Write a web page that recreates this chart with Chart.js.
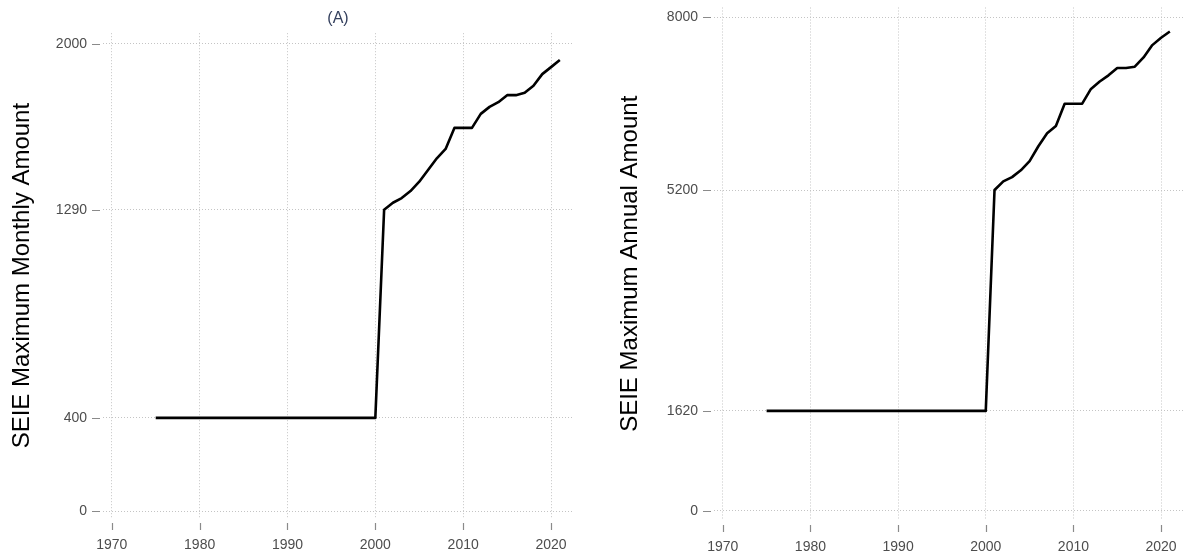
<!DOCTYPE html>
<html>
<head>
<meta charset="utf-8">
<script src="https://cdn.jsdelivr.net/npm/chart.js@4"></script>
<style>
  html, body { margin: 0; padding: 0; background: #fff; }
  #wrap { position: relative; width: 1189px; height: 559px; overflow: hidden; }
  canvas { position: absolute; top: 0; }
  #panelA { left: 0; }
  #panelB { left: 600px; }
</style>
</head>
<body>
<div id="wrap">
  <canvas id="panelA" width="600" height="559"></canvas>
  <canvas id="panelB" width="589" height="559"></canvas>
</div>
<script>
// SEIE maximum exclusion amounts by year
const years = [1975, 1976, 1977, 1978, 1979, 1980, 1981, 1982, 1983, 1984, 1985, 1986, 1987,
  1988, 1989, 1990, 1991, 1992, 1993, 1994, 1995, 1996, 1997, 1998, 1999, 2000,
  2001, 2002, 2003, 2004, 2005, 2006, 2007, 2008, 2009, 2010, 2011, 2012, 2013,
  2014, 2015, 2016, 2017, 2018, 2019, 2020, 2021];
const monthlyMax = [400, 400, 400, 400, 400, 400, 400, 400, 400, 400, 400, 400, 400,
  400, 400, 400, 400, 400, 400, 400, 400, 400, 400, 400, 400, 400,
  1290, 1320, 1340, 1370, 1410, 1460, 1510, 1550, 1640, 1640, 1640, 1700, 1730,
  1750, 1780, 1780, 1790, 1820, 1870, 1900, 1930];
const annualMax = [1620, 1620, 1620, 1620, 1620, 1620, 1620, 1620, 1620, 1620, 1620, 1620, 1620,
  1620, 1620, 1620, 1620, 1620, 1620, 1620, 1620, 1620, 1620, 1620, 1620, 1620,
  5200, 5340, 5410, 5520, 5670, 5910, 6120, 6240, 6600, 6600, 6600, 6840, 6960,
  7060, 7180, 7180, 7200, 7350, 7550, 7670, 7770];

const yearTicks = [1970, 1980, 1990, 2000, 2010, 2020];
const monthlyTicks = [0, 400, 1290, 2000];
const annualTicks = [0, 1620, 5200, 8000];

const FONT = "'Liberation Sans', Arial, sans-serif";
const GRID = '#c4c4c4';
const TICK_TEXT = '#4d4d4d';
const TICK_MARK = '#8a8a8a';

// Short tick marks that sit a few pixels outside the plotting area
const tickMarks = {
  id: 'tickMarks',
  afterDraw(chart) {
    const { ctx, chartArea } = chart;
    const xs = chart.scales.x, ys = chart.scales.y;
    ctx.save();
    ctx.strokeStyle = TICK_MARK;
    ctx.lineWidth = 1.2;
    ctx.beginPath();
    ys.ticks.forEach(t => {
      const py = Math.round(ys.getPixelForValue(t.value)) + 0.5;
      ctx.moveTo(chartArea.left - 11, py);
      ctx.lineTo(chartArea.left - 3, py);
    });
    xs.ticks.forEach(t => {
      const px = Math.round(xs.getPixelForValue(t.value)) + 0.5;
      ctx.moveTo(px, chartArea.bottom + 5);
      ctx.lineTo(px, chartArea.bottom + 12);
    });
    ctx.stroke();
    ctx.restore();
  }
};

function clearPadding(scale) {
  scale.paddingTop = 0;
  scale.paddingBottom = 0;
  scale.paddingLeft = 0;
  scale.paddingRight = 0;
}

function makePanel(canvasId, values, yTicks, yMin, yMax, yTitle, opts) {
  const points = years.map((yr, i) => ({ x: yr, y: values[i] }));
  return new Chart(document.getElementById(canvasId), {
    type: 'line',
    data: {
      datasets: [{
        data: points,
        borderColor: '#000',
        borderWidth: 2.6,
        pointRadius: 0,
        tension: 0,
        borderJoinStyle: 'round',
        fill: false
      }]
    },
    options: {
      responsive: false,
      animation: false,
      events: [],
      layout: { padding: opts.padding },
      plugins: {
        legend: { display: false },
        tooltip: { enabled: false },
        title: opts.title
      },
      scales: {
        x: {
          type: 'linear',
          min: 1969,
          max: 2022.5,
          border: { display: false, dash: [1, 2] },
          grid: { color: GRID, lineWidth: 1, drawTicks: false },
          afterBuildTicks(scale) { scale.ticks = yearTicks.map(v => ({ value: v })); },
          afterFit(scale) { scale.height = opts.xAxisHeight; clearPadding(scale); },
          ticks: {
            color: TICK_TEXT,
            font: { family: FONT, size: 14 },
            padding: 19,
            maxRotation: 0,
            callback: v => String(v)
          }
        },
        y: {
          type: 'linear',
          min: yMin,
          max: yMax,
          border: { display: false, dash: [1, 2] },
          grid: { color: GRID, lineWidth: 1, drawTicks: false },
          afterBuildTicks(scale) { scale.ticks = yTicks.map(v => ({ value: v })); },
          afterFit(scale) { scale.width = opts.yAxisWidth; clearPadding(scale); },
          ticks: {
            color: TICK_TEXT,
            font: { family: FONT, size: 14 },
            padding: 16,
            callback: v => String(v)
          },
          title: {
            display: true,
            text: yTitle,
            color: '#000',
            font: { family: FONT, size: 24, weight: 'normal' },
            padding: { top: opts.yTitleOffset, bottom: 0 }
          }
        }
      }
    },
    plugins: [tickMarks]
  });
}

makePanel('panelA', monthlyMax, monthlyTicks, -28, 2045, 'SEIE Maximum Monthly Amount', {
  padding: { left: 0, right: 27, top: 0, bottom: 0 },
  xAxisHeight: 41,
  yAxisWidth: 103,
  yTitleOffset: 7.6,
  title: {
    display: true,
    fullSize: false,
    text: '(A)',
    color: '#34405e',
    font: { family: FONT, size: 16, weight: 'normal' },
    padding: { top: 9, bottom: 5 }
  }
});

makePanel('panelB', annualMax, annualTicks, -150, 8160, 'SEIE Maximum Annual Amount', {
  padding: { left: 0, right: 6, top: 7.5, bottom: 0 },
  xAxisHeight: 39,
  yAxisWidth: 114,
  yTitleOffset: 15.6,
  title: { display: false }
});
</script>
</body>
</html>
